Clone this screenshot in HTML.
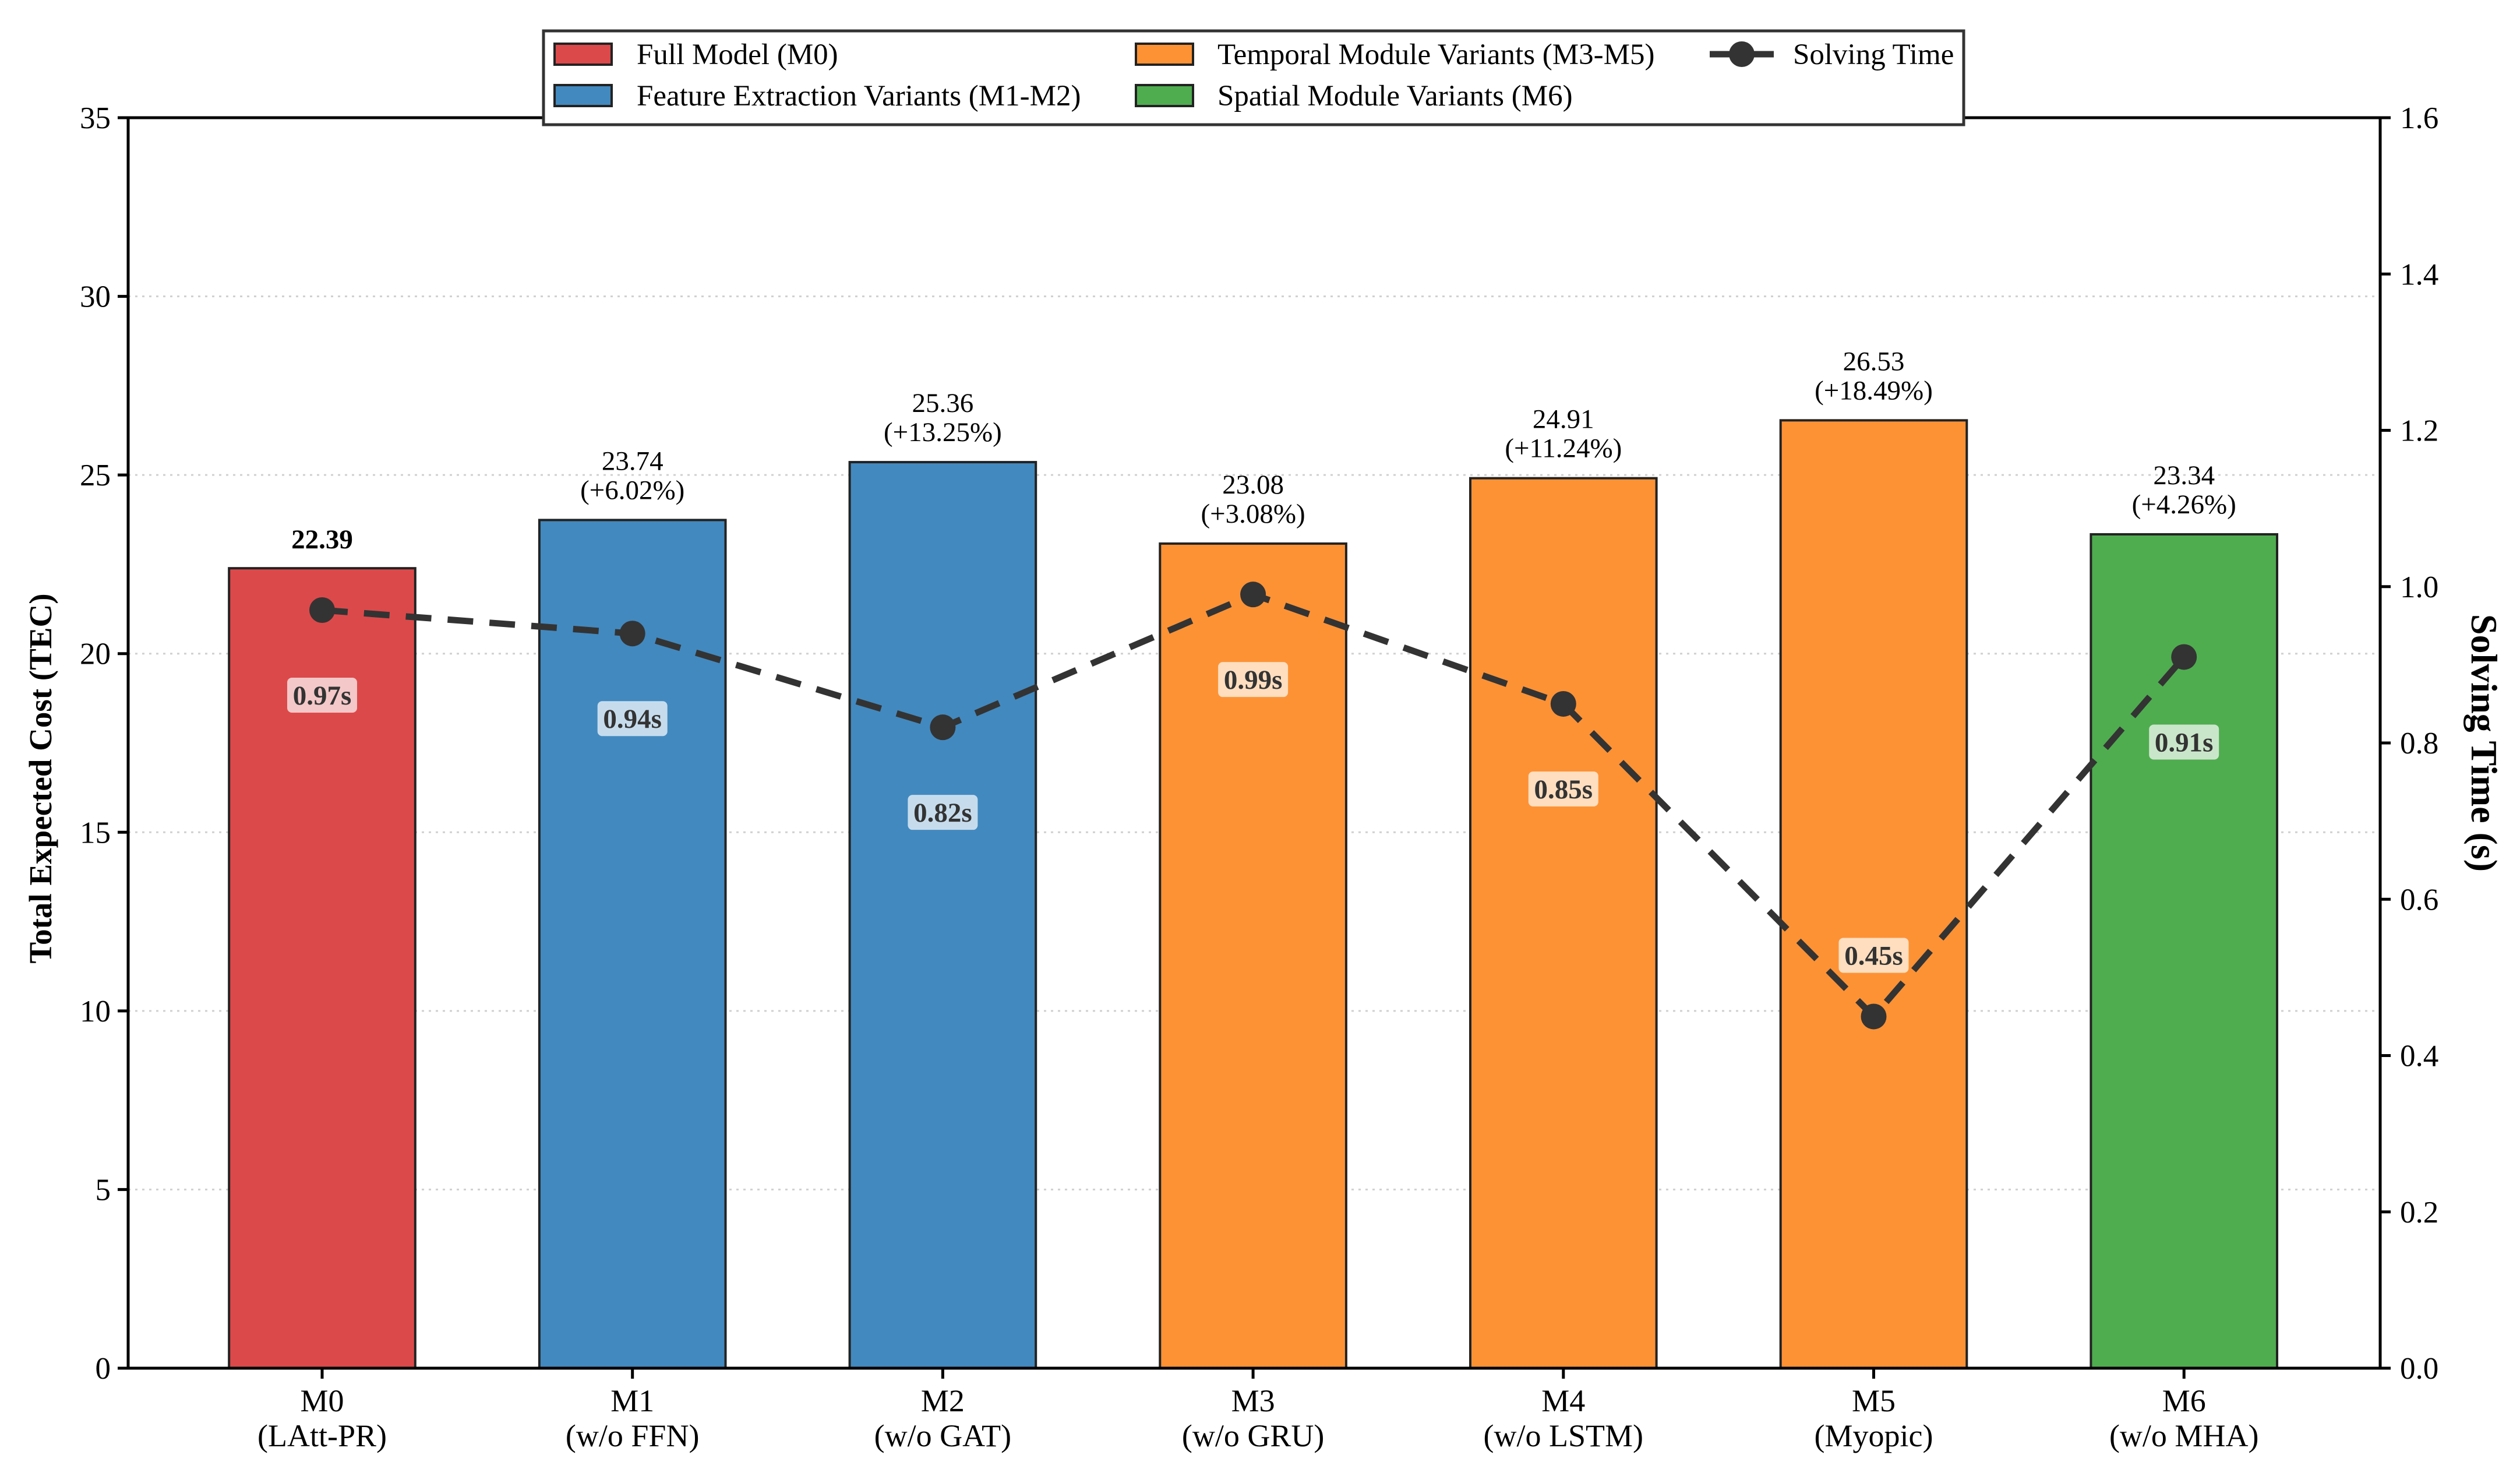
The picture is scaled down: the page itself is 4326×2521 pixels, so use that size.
<!DOCTYPE html>
<html><head><meta charset="utf-8"><style>
html,body{margin:0;padding:0;background:#fff}
svg{display:block;font-family:"Liberation Serif","DejaVu Serif",serif}
</style></head><body>
<svg id="chart" width="4326" height="2521" viewBox="0 0 4326 2521" xmlns="http://www.w3.org/2000/svg">
<g id="grid"></g>
<g id="bars"></g>
<g id="line"></g>
<g id="labels"></g>
<g id="axes"></g>
<text transform="translate(88,1336) rotate(-90)" text-anchor="middle" font-size="55" font-weight="bold">Total Expected Cost (TEC)</text>
<text transform="translate(4243,1275) rotate(90)" text-anchor="middle" font-size="64" font-weight="bold">Solving Time (s)</text>
<g>
  <rect x="933" y="53" width="2438" height="161" fill="#fff" stroke="#333" stroke-width="5"/>
  <rect x="952" y="75" width="98" height="36" fill="#dc494a" stroke="#222" stroke-width="4"/>
  <text x="1093" y="110" font-size="51">Full Model (M0)</text>
  <rect x="952" y="146" width="98" height="36" fill="#4289bf" stroke="#222" stroke-width="4"/>
  <text x="1093" y="181" font-size="51">Feature Extraction Variants (M1-M2)</text>
  <rect x="1950" y="75" width="98" height="36" fill="#fd9235" stroke="#222" stroke-width="4"/>
  <text x="2090" y="110" font-size="51">Temporal Module Variants (M3-M5)</text>
  <rect x="1950" y="146" width="98" height="36" fill="#4fad50" stroke="#222" stroke-width="4"/>
  <text x="2090" y="181" font-size="51">Spatial Module Variants (M6)</text>
  <line x1="2935" y1="93" x2="3045" y2="93" stroke="#333" stroke-width="11"/>
  <circle cx="2990" cy="93" r="22" fill="#333"/>
  <text x="3078" y="110" font-size="51">Solving Time</text>
</g>
<script>
const categories = ["M0","M1","M2","M3","M4","M5","M6"];
const subLabels = ["(LAtt-PR)","(w/o FFN)","(w/o GAT)","(w/o GRU)","(w/o LSTM)","(Myopic)","(w/o MHA)"];
const tecValues = [22.39,23.74,25.36,23.08,24.91,26.53,23.34];
const pctLabels = ["","(+6.02%)","(+13.25%)","(+3.08%)","(+11.24%)","(+18.49%)","(+4.26%)"];
const timeValues = [0.97,0.94,0.82,0.99,0.85,0.45,0.91];
const groups = ["full","feature","feature","temporal","temporal","temporal","spatial"];
const yTicks = [0,5,10,15,20,25,30,35];
const y2Ticks = [0,0.2,0.4,0.6,0.8,1.0,1.2,1.4,1.6];

const NS="http://www.w3.org/2000/svg";
const L=220,R=4086,T=202,B=2348;
const colors={full:"#dc494a",feature:"#4289bf",temporal:"#fd9235",spatial:"#4fad50"};
const lblBg={full:"#f4c8c9",feature:"#c6dced",temporal:"#fedebf",spatial:"#cae6ca"};
const x0=553, step=532.7;
const xs=i=>x0+i*step;
const ys=v=>B-(v/35)*(B-T);
const ys2=v=>B-(v/1.6)*(B-T);
function mk(tag,attrs,parent,txt){const e=document.createElementNS(NS,tag);for(const k in attrs)e.setAttribute(k,attrs[k]);if(txt!==undefined)e.textContent=txt;parent.appendChild(e);return e;}
const grid=document.getElementById('grid'),bars=document.getElementById('bars'),line=document.getElementById('line'),labels=document.getElementById('labels'),axes=document.getElementById('axes');

yTicks.forEach(v=>{
  if(v>0&&v<35){const g=mk('line',{x1:L,x2:R,y1:ys(v),y2:ys(v),stroke:"#d0d0d0","stroke-width":3,"stroke-dasharray":"4 8"},grid);
  
  }
  const t=mk('line',{x1:L-18,x2:L,y1:ys(v),y2:ys(v),stroke:"#000","stroke-width":5},axes);
  
  
  const tl=mk('text',{x:L-30,y:ys(v)+18,"text-anchor":"end","font-size":53},axes,String(v));
  
  
});
y2Ticks.forEach(v=>{
  const t=mk('line',{x1:R,x2:R+18,y1:ys2(v),y2:ys2(v),stroke:"#000","stroke-width":5},axes);
  
  
  const tl=mk('text',{x:R+34,y:ys2(v)+18,"font-size":53},axes,v.toFixed(1));
  
  
});

const bw=step*0.6;
categories.forEach((c,i)=>{
  const b=mk('rect',{x:xs(i)-bw/2,y:ys(tecValues[i]),width:bw,height:B-ys(tecValues[i]),fill:colors[groups[i]],stroke:"#222","stroke-width":4},bars);
  
  
  const top=ys(tecValues[i]);
  if(i===0){
    const t=mk('text',{x:xs(i),y:top-34,"text-anchor":"middle","font-size":47,"font-weight":"bold"},labels,tecValues[i].toFixed(2));
    
    
  } else {
    const t1=mk('text',{x:xs(i),y:top-86,"text-anchor":"middle","font-size":47},labels,tecValues[i].toFixed(2));
    
    
    const t2=mk('text',{x:xs(i),y:top-36,"text-anchor":"middle","font-size":47},labels,pctLabels[i]);
    
    
  }
  const xt=mk('line',{x1:xs(i),x2:xs(i),y1:B,y2:B+18,stroke:"#000","stroke-width":5},axes);
  
  
  const xl=mk('text',{x:xs(i),y:2422,"text-anchor":"middle","font-size":54},axes,c);
  
  
  const xl2=mk('text',{x:xs(i),y:2482,"text-anchor":"middle","font-size":54},axes,subLabels[i]);
  
  
});

const pts=timeValues.map((v,i)=>xs(i)+","+ys2(v)).join(" ");
const pl=mk('polyline',{points:pts,fill:"none",stroke:"#333","stroke-width":11,"stroke-dasharray":"44 28"},line);


timeValues.forEach((v,i)=>{
  const c=mk('circle',{cx:xs(i),cy:ys2(v),r:22,fill:"#333"},line);
  
  
  const below = v>=0.6;
  const cy = below ? ys2(v)+146 : ys2(v)-105;
  const r=mk('rect',{x:xs(i)-60,y:cy-30,width:120,height:60,rx:8,fill:lblBg[groups[i]]},labels);
  
  
  const t=mk('text',{x:xs(i),y:cy+16,"text-anchor":"middle","font-size":47,"font-weight":"bold",fill:"#333"},labels,v.toFixed(2)+"s");
  
  
});

const frame=mk('rect',{x:L,y:T,width:R-L,height:B-T,fill:"none",stroke:"#000","stroke-width":5},axes);


</script>
</svg>
</body></html>
